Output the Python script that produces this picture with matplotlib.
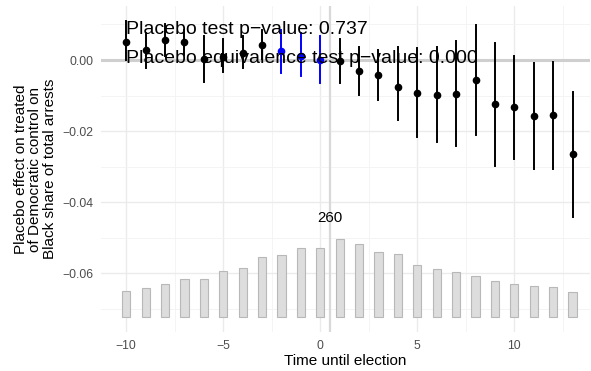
import matplotlib
matplotlib.use("Agg")
import matplotlib.pyplot as plt
from matplotlib.ticker import MultipleLocator, FuncFormatter
import numpy as np

plt.rcParams['font.family'] = ['Liberation Sans', 'DejaVu Sans']

# placebo estimates by period
periods = list(range(-10, 14))
estimates = [0.0050, 0.0028, 0.0056, 0.0052, 0.0002, 0.0009, 0.0020, 0.0042,
             0.0025, 0.0010, 0.0000, -0.0002, -0.0030, -0.0042, -0.0075, -0.0093,
             -0.0098, -0.0095, -0.0056, -0.0124, -0.0133, -0.0158, -0.0156, -0.0265]
ci_low = [-0.0000, -0.0022, 0.0010, 0.0014, -0.0063, -0.0033, -0.0022, 0.0003,
          -0.0036, -0.0045, -0.0064, -0.0065, -0.0098, -0.0112, -0.0170, -0.0216,
          -0.0231, -0.0242, -0.0212, -0.0298, -0.0279, -0.0307, -0.0307, -0.0442]
ci_high = [0.0110, 0.0075, 0.0100, 0.0084, 0.0067, 0.0058, 0.0067, 0.0084,
           0.0084, 0.0075, 0.0067, 0.0060, 0.0037, 0.0028, 0.0037, 0.0033,
           0.0037, 0.0054, 0.0098, 0.0049, 0.0012, -0.0009, -0.0005, -0.0090]
placebo_periods = [-2, -1, 0]

# number of treated observations per period
counts = [86, 95, 108, 127, 127, 151, 161, 200, 204, 227, 227, 260,
          242, 215, 209, 173, 159, 148, 137, 120, 109, 102, 98, 82]

p_text = "Placebo test p\u2212value: 0.737"
eq_text = "Placebo equivalence test p\u2212value: 0.000"

fig = plt.figure(figsize=(5.91, 3.71), dpi=100)
ax = fig.add_axes([101 / 591, 39 / 371, 489 / 591, 326 / 371])

# count bars at the bottom
bar_base = -0.0723
bar_max = 0.0221
heights = np.array(counts) / max(counts) * bar_max
ax.bar(periods, heights, bottom=bar_base, width=0.42, color='#DDDDDD',
       edgecolor='#B8B8B8', linewidth=0.8, zorder=2)
ax.text(0.5, -0.0445, str(max(counts)), ha='center', va='center', fontsize=10.8, zorder=5)

# reference lines
ax.axhline(0, color='#CFCFCF', lw=2.2, zorder=1)
ax.axvline(0.5, color='#D9D9D9', lw=1.6, zorder=1)

# estimates
for t, est, lo, hi in zip(periods, estimates, ci_low, ci_high):
    c = 'blue' if t in placebo_periods else 'black'
    ax.plot([t, t], [lo, hi], color=c, lw=1.4, zorder=3)
    ax.plot(t, est, 'o', color=c, ms=4.5, zorder=4)

ax.text(-10, 0.0087, p_text, ha='left', va='center', fontsize=14, zorder=6)
ax.text(-10, 0.0005, eq_text, ha='left', va='center', fontsize=14, zorder=6)

ax.set_xlim(-11.3, 13.9)
ax.set_ylim(-0.0765, 0.0152)
ax.xaxis.set_major_locator(MultipleLocator(5))
ax.xaxis.set_minor_locator(MultipleLocator(2.5))
ax.yaxis.set_major_locator(MultipleLocator(0.02))
ax.yaxis.set_minor_locator(MultipleLocator(0.01))
ax.xaxis.set_major_formatter(FuncFormatter(lambda v, p: f"{v:.0f}".replace('-', '\u2212')))
ax.yaxis.set_major_formatter(FuncFormatter(lambda v, p: f"{v:.2f}".replace('-', '\u2212')))

ax.grid(which='major', color='#EBEBEB', lw=1.0, zorder=0)
ax.grid(which='minor', color='#F3F3F3', lw=0.6, zorder=0)
ax.set_axisbelow(True)
for s in ax.spines.values():
    s.set_visible(False)
ax.tick_params(which='both', length=0, labelsize=8.8, labelcolor='#4D4D4D', pad=5.5)

ax.set_xlabel("Time until election", fontsize=11, labelpad=2)
ax.set_ylabel("Placebo effect on treated\nof Democratic control on\nBlack share of total arrests",
              fontsize=11, labelpad=4, linespacing=1.05)

fig.savefig("out.png", dpi=100)
